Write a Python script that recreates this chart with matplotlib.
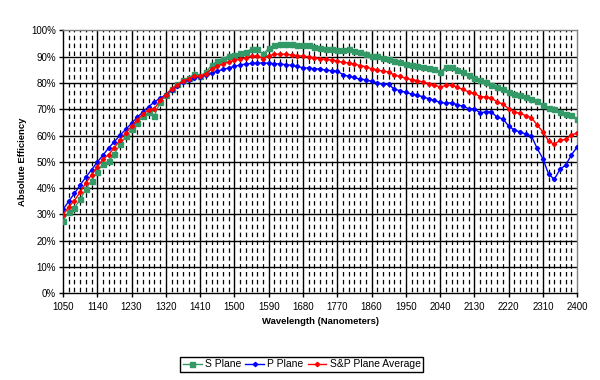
import numpy as np
import matplotlib
matplotlib.use('Agg')
import matplotlib.pyplot as plt

plt.rcParams['font.family'] = ['Liberation Sans', 'DejaVu Sans']

# wavelength every 15 nm from 1050 to 2400
wavelength = np.arange(1050, 2401, 15)

s_plane = [27.7, 30.8, 32.5, 35.7, 39.7, 42.9, 46.2, 49.3, 50.2, 53.0,
           56.7, 59.7, 62.5, 64.9, 67.3, 68.8, 67.6, 72.8, 75.5, 77.8,
           79.5, 81.0, 82.0, 83.3, 82.7, 84.0, 86.8, 88.2, 89.2, 90.2,
           90.8, 91.3, 91.9, 92.8, 92.9, 90.9, 93.2, 94.4, 94.8, 94.8,
           94.7, 94.5, 94.6, 94.4, 93.8, 93.4, 93.0, 92.8, 92.4, 92.5,
           92.9, 92.3, 91.9, 91.1, 90.3, 90.1, 89.6, 89.0, 88.5, 88.0,
           87.3, 86.8, 86.5, 86.1, 85.6, 85.2, 84.2, 85.9, 86.1, 84.9,
           84.0, 83.0, 82.0, 81.0, 80.4, 79.4, 78.6, 77.6, 76.7, 75.9,
           75.3, 74.6, 73.8, 73.0, 71.7, 70.5, 70.0, 69.1, 68.3, 67.8,
           66.4]

p_plane = [31.9, 35.0, 38.0, 41.2, 44.2, 47.0, 49.9, 52.6, 55.3, 57.7,
           60.2, 62.4, 64.7, 67.0, 69.0, 71.0, 72.8, 74.2, 75.5, 77.3,
           78.9, 80.4, 81.2, 81.9, 82.4, 83.0, 83.7, 84.5, 85.2, 85.7,
           86.3, 86.9, 87.2, 87.5, 87.6, 87.6, 87.5, 87.4, 87.2, 87.0,
           86.7, 86.3, 85.8, 85.7, 85.4, 85.3, 84.9, 84.7, 84.5, 83.2,
           82.5, 82.1, 81.4, 81.3, 80.6, 80.0, 79.5, 79.5, 77.6, 77.1,
           76.4, 75.8, 75.3, 74.8, 74.0, 73.4, 72.6, 72.3, 72.5, 71.7,
           71.2, 70.2, 70.2, 68.7, 69.0, 69.0, 66.9, 66.4, 63.6, 62.1,
           61.4, 60.6, 59.8, 55.1, 51.2, 45.3, 43.4, 47.2, 48.8, 52.7,
           55.7]

sp_average = [29.8, 32.9, 35.3, 38.5, 42.0, 45.0, 48.1, 51.0, 52.8, 55.4,
              58.5, 61.1, 63.6, 66.0, 68.2, 69.9, 70.2, 73.5, 75.5, 77.6,
              79.2, 80.7, 81.6, 82.6, 82.6, 83.5, 85.3, 86.4, 87.2, 88.0,
              88.6, 89.1, 89.6, 90.2, 90.3, 89.3, 90.4, 90.9, 91.0, 90.9,
              90.7, 90.4, 90.2, 90.0, 89.6, 89.3, 89.0, 88.7, 88.4, 87.8,
              87.7, 87.2, 86.6, 86.2, 85.4, 85.0, 84.5, 84.2, 83.0, 82.5,
              81.8, 81.3, 80.9, 80.4, 79.8, 79.3, 78.4, 79.1, 79.3, 78.3,
              77.6, 76.6, 76.1, 74.8, 74.7, 74.2, 72.8, 72.0, 70.2, 69.0,
              68.4, 67.6, 66.8, 64.0, 61.4, 57.9, 56.7, 58.2, 58.6, 60.2,
              61.0]

x_ticks = np.arange(1050, 2401, 90)
y_ticks = np.arange(0, 101, 10)

fig = plt.figure(figsize=(6, 3.8), dpi=100)
ax = fig.add_axes([0.105, 0.228, 0.857, 0.692])

# grid: dashed minor verticals, solid major lines
for x in np.arange(1050, 2401, 15):
    if (x - 1050) % 90 != 0:
        ax.axvline(x, color='black', lw=0.9, linestyle=(5.3, (3.6, 2.7)), zorder=1)
for x in x_ticks[1:-1]:
    ax.axvline(x, color='black', lw=1.0, zorder=1)
for y in y_ticks[1:-1]:
    ax.axhline(y, color='black', lw=1.0, zorder=1)

ax.plot(wavelength, s_plane, color='#339966', marker='s', markersize=3.6,
        lw=1.0, label='S Plane', zorder=3)
ax.plot(wavelength, p_plane, color='#0000FF', marker='D', markersize=2.2,
        lw=1.0, label='P Plane', zorder=4)
ax.plot(wavelength, sp_average, color='#FF0000', marker='D', markersize=2.2,
        lw=1.0, label='S&P Plane Average', zorder=5)

ax.set_xlim(1050, 2400)
ax.set_ylim(0, 100)
ax.set_xticks(x_ticks)
ax.set_yticks(y_ticks)
ax.set_yticklabels([f'{v}%' for v in y_ticks])
ax.tick_params(axis='both', direction='out', length=3, width=1,
               labelsize=7, pad=2)
ax.tick_params(axis='x', pad=3)

for side in ['left', 'bottom']:
    ax.spines[side].set_color('black')
    ax.spines[side].set_linewidth(1.0)
for side in ['top', 'right']:
    ax.spines[side].set_color('#808080')
    ax.spines[side].set_linewidth(1.0)

ax.set_xlabel('Wavelength (Nanometers)', fontsize=6.8, fontweight='bold', labelpad=4)
ax.set_ylabel('Absolute Efficiency', fontsize=6.8, fontweight='bold', labelpad=3)

leg = fig.legend(loc='center', bbox_to_anchor=(0.503, 0.041), ncol=3,
                 fontsize=7.5, frameon=True, fancybox=False, handlelength=1.8,
                 handletextpad=0.3, columnspacing=0.4, borderpad=0.25,
                 edgecolor='black', framealpha=1)
leg.get_frame().set_linewidth(1.0)

fig.savefig('out.png', dpi=100)
